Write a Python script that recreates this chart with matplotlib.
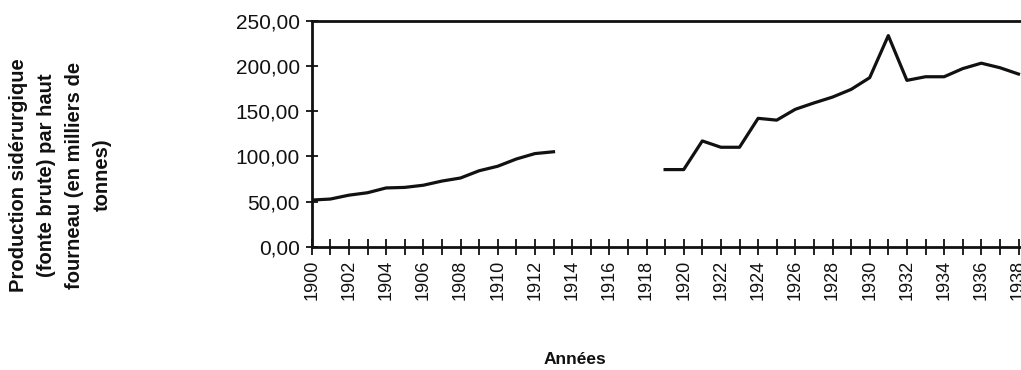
import numpy as np
import matplotlib
matplotlib.use("Agg")
import matplotlib.pyplot as plt
from matplotlib.ticker import FuncFormatter, MultipleLocator

plt.rcParams['font.family'] = ['Liberation Sans', 'DejaVu Sans']

years = list(range(1900, 1939))
production = [51.6, 52.7, 57.0, 59.7, 65.0, 65.6, 68.0, 72.6, 76.0, 84.0,
              89.0, 97.0, 103.0, 105.0,
              np.nan, np.nan, np.nan, np.nan, np.nan,
              85.3, 85.3, 117.0, 110.0, 110.0, 142.0, 140.0, 152.0, 159.0,
              165.5, 174.0, 187.0, 233.5, 184.0, 188.0, 188.0, 197.0, 203.0,
              198.0, 191.0]
y_ticks = [0, 50, 100, 150, 200, 250]
y_label = "Production sidérurgique\n(fonte brute) par haut\nfourneau (en milliers de\ntonnes)"
x_label = "Années"

W, H = 1021, 370
fig = plt.figure(figsize=(W / 100, H / 100), dpi=100)
left_px, bottom_px, top_px = 311.7, 246.7, 20.7
px_per_year = 18.6
xmax = 1939
ax = fig.add_axes([left_px / W, 1 - bottom_px / H,
                   (xmax - 1900) * px_per_year / W, (bottom_px - top_px) / H])

ax.plot(years, production, color='#111111', lw=2.3, solid_joinstyle='round')
ax.set_xlim(1900, xmax)
ax.set_ylim(0, 250)

ax.set_yticks(y_ticks)
ax.yaxis.set_major_formatter(FuncFormatter(lambda v, p: f"{v:.2f}".replace('.', ',')))
ax.xaxis.set_major_locator(MultipleLocator(2))
ax.xaxis.set_minor_locator(MultipleLocator(1))
ax.xaxis.set_major_formatter(FuncFormatter(lambda v, p: f"{int(round(v))}"))

for s in ['left', 'bottom', 'top']:
    ax.spines[s].set_linewidth(2.0)
    ax.spines[s].set_color('#111111')
ax.spines['right'].set_visible(False)

ax.tick_params(axis='y', direction='inout', length=9, width=1.3, labelsize=15,
               pad=4, colors='#111111')
ax.tick_params(axis='x', which='both', direction='inout', length=11, width=1.3,
               labelsize=13, labelrotation=90, pad=4, colors='#111111')

fig.text(60 / W, 1 - 175 / H, y_label, rotation=90, ha='center', va='center',
         multialignment='center', fontsize=14.5, fontweight='bold',
         linespacing=1.6, color='#111111')
fig.text(575 / W, 1 - 360 / H, x_label, ha='center', va='center',
         fontsize=12.5, fontweight='bold', color='#111111')

fig.savefig("out.png", dpi=100)
